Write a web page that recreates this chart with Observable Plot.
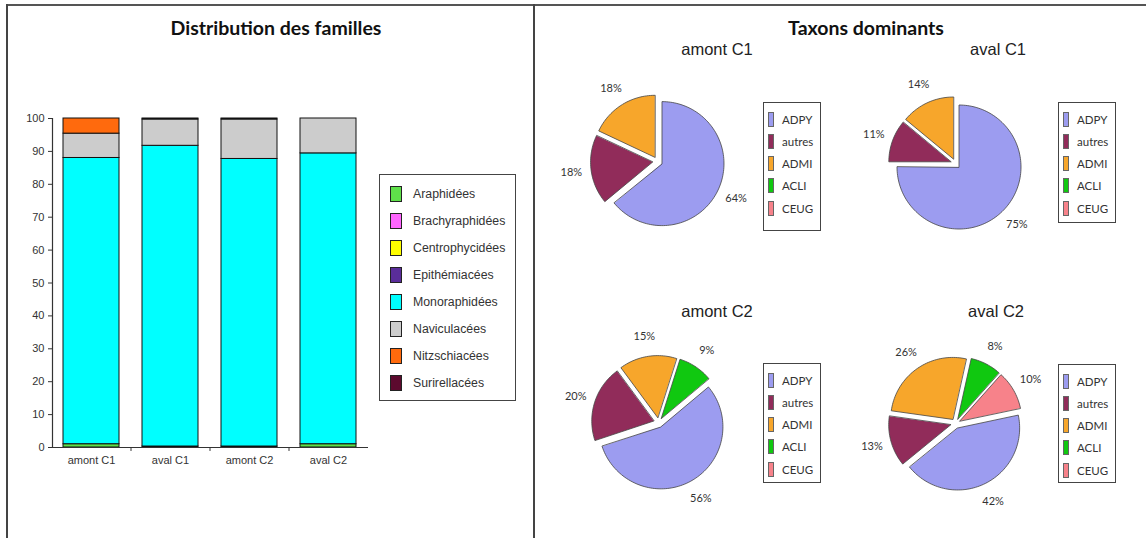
<!DOCTYPE html>
<html><head><meta charset="utf-8">
<script src="https://cdn.jsdelivr.net/npm/d3@7"></script>
<script src="https://cdn.jsdelivr.net/npm/@observablehq/plot@0.6"></script>
<style>
body{margin:0;background:#fff;}
#root{position:relative;width:1146px;height:538px;overflow:hidden;background:#fff;font-family:"Liberation Sans",Arial,sans-serif;}
.abs{position:absolute;}
svg{overflow:visible;}
.title{position:absolute;font-family:Lato,"Open Sans",sans-serif;font-weight:bold;font-size:19.5px;color:#111;transform:translate(-50%,-50%);white-space:nowrap;}
.ptitle{position:absolute;font-family:"Liberation Sans",Arial,sans-serif;font-size:16.5px;color:#222;transform:translate(-50%,-50%);white-space:nowrap;}
.legend{position:absolute;border:1.5px solid #444;box-sizing:border-box;background:#fff;}
.row{position:absolute;display:flex;align-items:center;white-space:nowrap;}
</style></head><body><div id="root"></div>
<script>
// ---------- Data: Distribution des familles ----------
const sites = ["amont C1", "aval C1", "amont C2", "aval C2"];
const families = ["Araphidées", "Brachyraphidées", "Centrophycidées", "Epithémiacées",
                  "Monoraphidées", "Naviculacées", "Nitzschiacées", "Surirellacées"];
const familyColors = ["#5fe04a", "#ff66ff", "#ffff00", "#5a2d9a",
                      "#00ffff", "#cccccc", "#ff6a0d", "#5c0a2e"];
const araphidees      = [1.0, 0.3, 0.3, 1.0];
const brachyraphidees = [0, 0, 0, 0];
const centrophycidees = [0, 0, 0, 0];
const epithemiacees   = [0, 0, 0, 0];
const monoraphidees   = [87.0, 91.4, 87.4, 88.4];
const naviculacees    = [7.4, 8.0, 12.0, 10.6];
const nitzschiacees   = [4.6, 0, 0, 0];
const surirellacees   = [0, 0.3, 0.3, 0];
const yTicks = [0, 10, 20, 30, 40, 50, 60, 70, 80, 90, 100];

// ---------- Data: Taxons dominants ----------
const pieTitles = ["amont C1", "aval C1", "amont C2", "aval C2"];
const taxa = ["ADPY", "autres", "ADMI", "ACLI", "CEUG"];
const taxaColors = ["#9c9cf0", "#912c5a", "#f7a62b", "#10c810", "#f7828a"];
const amontC1Pct = [64, 18, 18, 0, 0];
const avalC1Pct  = [75, 11, 14, 0, 0];
const amontC2Pct = [56, 20, 15, 9, 0];
const avalC2Pct  = [42, 13, 26, 8, 10];
const pieStartAngles = [0, 0, 50, 78];

// ---------- Layout ----------
const root = document.getElementById("root");
function div(cls, style, text) {
  const d = document.createElement("div");
  if (cls) d.className = cls;
  Object.assign(d.style, style);
  if (text != null) d.textContent = text;
  root.appendChild(d);
  return d;
}
// panel borders
div("abs", {left: "6px", top: "4px", width: "1140px", height: "2px", background: "#555"});
div("abs", {left: "6px", top: "4px", width: "2px", height: "534px", background: "#444"});
div("abs", {left: "533px", top: "4px", width: "2px", height: "534px", background: "#444"});

div("title", {left: "276px", top: "27px"}, "Distribution des familles");
div("title", {left: "866px", top: "27px"}, "Taxons dominants");

// ---------- Bar chart ----------
const familyValues = [araphidees, brachyraphidees, centrophycidees, epithemiacees,
                      monoraphidees, naviculacees, nitzschiacees, surirellacees];
const barData = [];
families.forEach((f, i) => sites.forEach((s, j) => {
  const v = familyValues[i][j];
  if (v > 0) barData.push({site: s, family: f, value: v});
}));

const bar = Plot.plot({
  width: 380, height: 480,
  marginLeft: 52, marginRight: 12, marginTop: 118, marginBottom: 33,
  style: {fontFamily: "'Liberation Sans', Arial, sans-serif", fontSize: "11px", color: "#333", background: "transparent", overflow: "visible"},
  x: {domain: sites, paddingInner: 0.29, paddingOuter: 0.145, label: null, tickSize: 0, tickPadding: 9},
  y: {domain: [0, 100], ticks: yTicks, label: null, tickSize: 4, tickPadding: 4},
  color: {domain: families, range: familyColors},
  marks: [
    Plot.barY(barData, {x: "site", y: "value", fill: "family", z: "family", stroke: "#111", strokeWidth: 1}),
    Plot.ruleY([0], {stroke: "#333", strokeWidth: 1.2}),
    Plot.frame({anchor: "left", stroke: "#333", strokeWidth: 1.2}),
    Plot.ruleX(sites.slice(0, -1), {x: d => d, dx: 39.5, y1: 0, y2: -1.2, stroke: "#333"})
  ]
});
bar.style.position = "absolute"; bar.style.left = "0px"; bar.style.top = "0px";
root.appendChild(bar);

// family legend
const fl = div("legend", {left: "379px", top: "174px", width: "137px", height: "227px"});
families.forEach((f, i) => {
  const r = document.createElement("div");
  r.className = "row";
  Object.assign(r.style, {left: "10px", top: (11 + i * 27) + "px", height: "16px", fontSize: "12.3px", color: "#333"});
  const sw = document.createElement("span");
  Object.assign(sw.style, {display: "inline-block", width: "10px", height: "14px", background: familyColors[i], border: "1px solid #222", marginRight: "11px"});
  r.appendChild(sw);
  r.appendChild(document.createTextNode(f));
  fl.appendChild(r);
});

// ---------- Pies ----------
const pieValues = [amontC1Pct, avalC1Pct, amontC2Pct, avalC2Pct];
const pieLayout = [
  {cx: 657, cy: 161, tx: 717, ty: 49, lx: 763, ly: 102, lh: 129},
  {cx: 955, cy: 163, tx: 998, ty: 49, lx: 1058, ly: 102, lh: 121},
  {cx: 658, cy: 422, tx: 717, ty: 311, lx: 763, ly: 363, lh: 120},
  {cx: 955, cy: 423, tx: 996, ty: 311, lx: 1058, ly: 364, lh: 119}
];
const R = 62, W = 240, H = 230, explode = 0.08;
const rad = d => d * Math.PI / 180;

pieValues.forEach((values, p) => {
  const L = pieLayout[p];
  const total = d3.sum(values);
  let a = pieStartAngles[p];
  const pts = [], labels = [];
  values.forEach((v, i) => {
    if (!v) return;
    const span = v / total * 360;
    const a0 = a, mid = a + span / 2;
    a += span;
    const ox = explode * Math.sin(rad(mid)), oy = explode * Math.cos(rad(mid));
    pts.push({taxon: taxa[i], x: ox, y: oy});
    const n = Math.max(2, Math.ceil(span / 2));
    for (let k = 0; k <= n; k++) {
      const t = rad(a0 + span * k / n);
      pts.push({taxon: taxa[i], x: ox + Math.sin(t), y: oy + Math.cos(t)});
    }
    labels.push({text: v + "%", x: 1.4 * Math.sin(rad(mid)), y: 1.4 * Math.cos(rad(mid))});
  });
  const pie = Plot.plot({
    width: W, height: H, margin: 0,
    style: {background: "transparent", overflow: "visible"},
    x: {domain: [-W / 2 / R, W / 2 / R], axis: null},
    y: {domain: [-H / 2 / R, H / 2 / R], axis: null},
    color: {domain: taxa, range: taxaColors},
    marks: [
      Plot.line(pts, {x: "x", y: "y", z: "taxon", fill: "taxon", stroke: "#444", strokeWidth: 0.8, curve: "linear-closed"}),
      Plot.text(labels, {x: "x", y: "y", text: "text", fontSize: 11, fill: "#333", fontFamily: "Lato, 'Open Sans', sans-serif"})
    ]
  });
  pie.style.position = "absolute";
  pie.style.left = (L.cx - W / 2) + "px";
  pie.style.top = (L.cy - H / 2) + "px";
  root.appendChild(pie);

  div("ptitle", {left: L.tx + "px", top: L.ty + "px"}, pieTitles[p]);

  const lg = div("legend", {left: L.lx + "px", top: L.ly + "px", width: "58px", height: L.lh + "px"});
  taxa.forEach((t, i) => {
    const r = document.createElement("div");
    r.className = "row";
    Object.assign(r.style, {left: "4px", top: (8 + i * 22.3) + "px", height: "16px", fontSize: "11.5px", color: "#333", fontFamily: "Lato, 'Open Sans', sans-serif"});
    const sw = document.createElement("span");
    Object.assign(sw.style, {display: "inline-block", width: "4px", height: "13px", background: taxaColors[i], border: "0.5px solid #666", marginRight: "8px"});
    r.appendChild(sw);
    r.appendChild(document.createTextNode(t));
    lg.appendChild(r);
  });
});
</script>
</body></html>
